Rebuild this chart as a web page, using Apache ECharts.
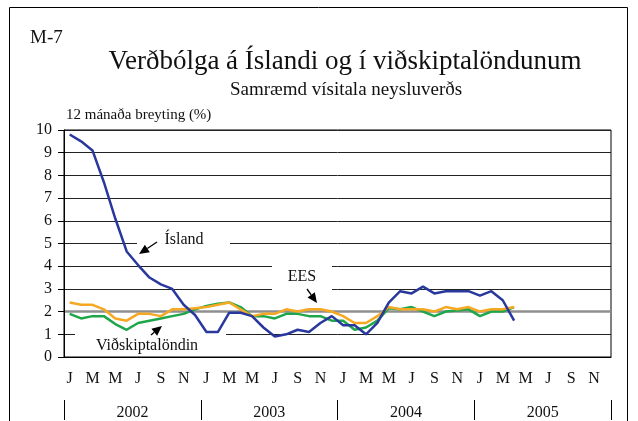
<!DOCTYPE html>
<html>
<head>
<meta charset="utf-8">
<script src="https://cdn.jsdelivr.net/npm/echarts@6/dist/echarts.min.js"></script>
<style>
html,body{margin:0;padding:0;background:#fff;}
#main{width:638px;height:421px;}
</style>
</head>
<body>
<div id="main"></div>
<script>
// mánuðir jan 2002 - des 2005
var monthLetters = ['J','F','M','A','M','J','J','A','S','O','N','D'];
var years = ['2002','2003','2004','2005'];
var months = [];
for (var y = 0; y < years.length; y++) {
    for (var m = 0; m < 12; m++) months.push(monthLetters[m]);
}

// 12 mánaða breyting (%), jan 2002 - apr 2005
var island = [9.8,9.5,9.1,7.7,6.1,4.65,4.05,3.5,3.2,3.0,2.3,1.85,1.1,1.1,1.95,1.95,1.8,1.3,0.9,1.0,
              1.2,1.1,1.5,1.8,1.4,1.4,1.0,1.5,2.4,2.9,2.8,3.1,2.8,2.9,2.9,2.9,2.7,2.9,2.5,1.6];
var ees = [2.4,2.3,2.3,2.1,1.7,1.6,1.9,1.9,1.8,2.1,2.1,2.15,2.2,2.3,2.4,2.1,1.8,1.9,1.9,2.1,
           2.0,2.1,2.1,2.0,1.8,1.5,1.5,1.8,2.2,2.1,2.1,2.1,2.0,2.2,2.1,2.2,2.0,2.1,2.1,2.2];
var vidskipta = [1.9,1.7,1.8,1.8,1.45,1.2,1.5,1.6,1.7,1.8,1.9,2.1,2.25,2.35,2.4,2.2,1.8,1.8,1.7,1.9,
                 1.9,1.8,1.8,1.6,1.6,1.2,1.3,1.6,2.15,2.1,2.2,2.0,1.8,2.0,2.05,2.1,1.8,2.0,2.0,2.2];

var serif = '"Liberation Serif", "Times New Roman", serif';
var clear = 'rgba(0,0,0,0)';

function txt(s, x, y, size, align) {
    return {
        type: 'text', z: 10,
        style: {text: s, x: x, y: y, font: size + 'px ' + serif, fill: '#111',
                textAlign: align || 'center', textVerticalAlign: 'middle'}
    };
}
function blank(x, y, w, h) {
    return {type: 'rect', z: 1, shape: {x: x, y: y, width: w, height: h}, style: {fill: '#fff'}};
}
function arrow(x1, y1, x2, y2) {
    var a = Math.atan2(y2 - y1, x2 - x1), c = Math.cos(a), s = Math.sin(a);
    var L = 10, W = 4.5;
    var bx = x2 - L * c, by = y2 - L * s;
    return [
        {type: 'line', z: 10, shape: {x1: x1, y1: y1, x2: bx, y2: by}, style: {stroke: '#000', lineWidth: 1.3}},
        {type: 'polygon', z: 10, shape: {points: [[x2, y2], [bx - s * W, by + c * W], [bx + s * W, by - c * W]]},
         style: {fill: '#000'}}
    ];
}

var graphics = [
    {type: 'rect', z: 0, shape: {x: 9.5, y: 7.5, width: 618, height: 440}, style: {fill: 'none', stroke: '#000', lineWidth: 1}},
    txt('M-7', 30, 38, 19, 'left'),
    txt('Verðbólga á Íslandi og í viðskiptalöndunum', 345, 62, 27),
    txt('Samræmd vísitala neysluverðs', 346, 90, 19),
    txt('12 mánaða breyting (%)', 66, 115, 15, 'left'),
    blank(137, 236, 93, 13),
    blank(272, 259, 60, 36),
    blank(75, 329, 151, 10),
    txt('Ísland', 184, 240, 16),
    txt('EES', 302, 277, 16),
    txt('Viðskiptalöndin', 147, 346, 16)
].concat(arrow(157, 242, 139, 254), arrow(307, 289, 317, 303), arrow(151, 335, 162, 326));

var chart = echarts.init(document.getElementById('main'));
chart.setOption({
    animation: false,
    backgroundColor: '#fff',
    grid: {left: 64, right: 27, top: 130, bottom: 64, show: true, borderColor: '#000', borderWidth: 1},
    xAxis: [{
        type: 'category',
        data: months,
        boundaryGap: true,
        axisLine: {onZero: false, lineStyle: {color: '#000', width: 1}},
        axisTick: {alignWithLabel: true, interval: 0, length: 6, lineStyle: {color: '#000'}},
        axisLabel: {interval: 1, margin: 14, color: '#111', fontSize: 16, fontFamily: serif},
        splitLine: {show: false}
    }, {
        type: 'category',
        data: years,
        position: 'bottom',
        offset: 43,
        boundaryGap: true,
        axisLine: {show: false, onZero: false},
        axisTick: {show: true, length: 20, lineStyle: {color: '#000', width: 1}},
        axisLabel: {margin: 5, color: '#111', fontSize: 16, fontFamily: serif},
        splitLine: {show: false}
    }],
    yAxis: [{
        type: 'value',
        min: 0, max: 10, interval: 1,
        axisLine: {show: true, lineStyle: {color: '#000'}},
        axisTick: {show: true, length: 6, lineStyle: {color: '#000'}},
        axisLabel: {margin: 12, color: '#111', fontSize: 16, fontFamily: serif},
        splitLine: {lineStyle: {color: '#222', width: 1}}
    }, {
        // aðeins til að teikna gráu 2% línuna undir ferlunum
        type: 'value',
        position: 'right',
        min: 0, max: 10, interval: 2,
        axisLine: {show: false},
        axisTick: {show: false},
        axisLabel: {show: false},
        splitLine: {lineStyle: {color: [clear, '#8f8f8f', clear, clear, clear, clear], width: 2.5}}
    }],
    graphic: graphics,
    series: [
        {name: 'Viðskiptalöndin', type: 'line', data: vidskipta, symbol: 'none', z: 3,
         lineStyle: {color: '#1fa64a', width: 2.5}},
        {name: 'EES', type: 'line', data: ees, symbol: 'none', z: 4,
         lineStyle: {color: '#f7a823', width: 2.5}},
        {name: 'Ísland', type: 'line', data: island, symbol: 'none', z: 5,
         lineStyle: {color: '#28389c', width: 2.5}}
    ]
});
</script>
</body>
</html>
